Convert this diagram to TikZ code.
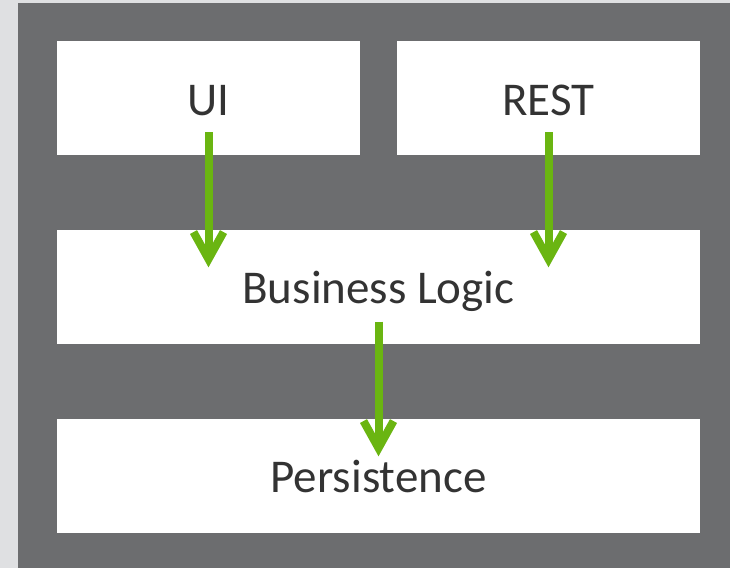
\documentclass[tikz,border=0pt]{standalone}
\usepackage{fontspec}
\setmainfont{Carlito}
\usepackage{xcolor}
\usepackage{tikz}
\usetikzlibrary{positioning,arrows.meta,calc}

\definecolor{pagegray}{HTML}{DFE0E2}
\definecolor{panelgray}{HTML}{6C6D6F}
\definecolor{flowgreen}{HTML}{6AB511}
\definecolor{labelgray}{HTML}{333333}

\begin{document}
\begin{tikzpicture}[x=1pt,y=-1pt,
    layer/.style={fill=white, draw=none, minimum height=114pt, inner sep=0pt,
      text height=34pt, text depth=0pt,
      font=\fontsize{47}{56}\selectfont, text=labelgray},
    flow/.style={draw=flowgreen, line width=8pt,
      -{Straight Barb[length=27pt, width=30pt, line width=8pt]}}]

  \useasboundingbox (0,0) rectangle (730,568);
  \fill[pagegray] (0,0) rectangle (730,568);
  \fill[panelgray] (18,3) rectangle (730,568);

  % the layers
  \node[layer, minimum width=303pt] (ui) at (208.5,98) {UI};
  \node[layer, minimum width=303pt] (rest) at (548.5,98) {REST};
  \node[layer, minimum width=643pt] (biz) at (378.5,286.5) {Business Logic};
  \node[layer, minimum width=643pt] (pers) at (378.5,475.5) {Persistence};

  % calls between layers
  \draw[flow] ([yshift=23pt]ui.south) -- ($(ui.south |- biz.north)+(0,-38pt)$);
  \draw[flow] ([yshift=23pt]rest.south) -- ($(rest.south |- biz.north)+(0,-38pt)$);
  \draw[flow] ([yshift=22pt]biz.south) -- ($(biz.south |- pers.north)+(0,-38pt)$);
\end{tikzpicture}
\end{document}
